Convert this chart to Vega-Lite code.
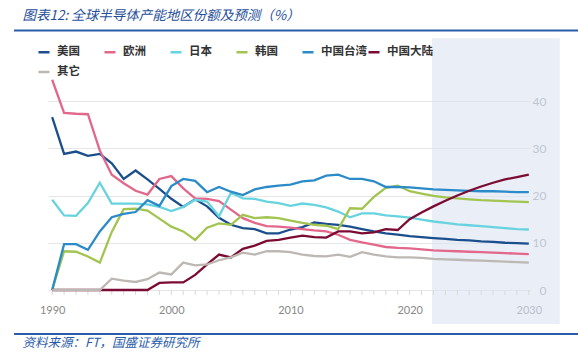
{
  "$schema": "https://vega.github.io/schema/vega-lite/v6.json",
  "width": 482,
  "height": 189,
  "autosize": {"type": "none"},
  "padding": {"left": 48, "top": 101, "right": 48, "bottom": 67},
  "background": "white",
  "config": {"view": {"stroke": null}, "font": "Noto Sans CJK SC", "legend": {"columnPadding": -8, "gridAlign": "all"}},
  "data": {"values": [
    {"year": 1990, "美国": 36.6, "欧洲": 44.5, "日本": 19.1, "韩国": 0, "中国台湾": 0, "中国大陆": 0, "其它": 0},
    {"year": 1991, "美国": 28.8, "欧洲": 37.5, "日本": 15.8, "韩国": 8.2, "中国台湾": 9.7, "中国大陆": 0, "其它": 0},
    {"year": 1992, "美国": 29.3, "欧洲": 37.3, "日本": 15.7, "韩国": 8.1, "中国台湾": 9.7, "中国大陆": 0, "其它": 0},
    {"year": 1993, "美国": 28.4, "欧洲": 37.2, "日本": 18.4, "韩国": 7.1, "中国台湾": 8.5, "中国大陆": 0, "其它": 0},
    {"year": 1994, "美国": 28.8, "欧洲": 29.5, "日本": 22.7, "韩国": 5.8, "中国台湾": 12.4, "中国大陆": 0, "其它": 0},
    {"year": 1995, "美国": 26.8, "欧洲": 24.4, "日本": 18.3, "韩国": 12.3, "中国台湾": 15.4, "中国大陆": 0, "其它": 2.4},
    {"year": 1996, "美国": 23.5, "欧洲": 22.6, "日本": 18.3, "韩国": 17.1, "中国台湾": 16.1, "中国大陆": 0, "其它": 2.0},
    {"year": 1997, "美国": 25.3, "欧洲": 21.0, "日本": 18.3, "韩国": 17.2, "中国台湾": 16.5, "中国大陆": 0, "其它": 1.7},
    {"year": 1998, "美国": 23.4, "欧洲": 20.2, "日本": 18.1, "韩国": 16.8, "中国台湾": 19.0, "中国大陆": 0, "其它": 2.3},
    {"year": 1999, "美国": 21.4, "欧洲": 23.5, "日本": 17.6, "韩国": 15.1, "中国台湾": 17.8, "中国大陆": 1.5, "其它": 3.7},
    {"year": 2000, "美国": 19.3, "欧洲": 24.1, "日本": 16.7, "韩国": 13.4, "中国台湾": 22.0, "中国大陆": 1.6, "其它": 3.3},
    {"year": 2001, "美国": 17.6, "欧洲": 21.5, "日本": 17.6, "韩国": 12.4, "中国台湾": 23.5, "中国大陆": 1.6, "其它": 5.8},
    {"year": 2002, "美国": 19.2, "欧洲": 19.4, "日本": 19.1, "韩国": 10.6, "中国台湾": 23.1, "中国大陆": 3.2, "其它": 5.2},
    {"year": 2003, "美国": 17.7, "欧洲": 19.3, "日本": 18.7, "韩国": 13.2, "中国台湾": 20.7, "中国大陆": 5.4, "其它": 5.4},
    {"year": 2004, "美国": 15.3, "欧洲": 18.8, "日本": 15.6, "韩国": 14.1, "中国台湾": 21.8, "中国大陆": 7.5, "其它": 6.3},
    {"year": 2005, "美国": 13.8, "欧洲": 17.0, "日本": 20.6, "韩国": 13.8, "中国台湾": 20.8, "中国大陆": 6.9, "其它": 6.9},
    {"year": 2006, "美国": 13.1, "欧洲": 15.2, "日本": 19.4, "韩国": 15.9, "中国台湾": 20.1, "中国大陆": 8.7, "其它": 7.9},
    {"year": 2007, "美国": 12.9, "欧洲": 14.2, "日本": 19.3, "韩国": 15.2, "中国台湾": 21.3, "中国大陆": 9.4, "其它": 7.5},
    {"year": 2008, "美国": 12.0, "欧洲": 13.5, "日本": 18.7, "韩国": 15.4, "中国台湾": 21.8, "中国大陆": 10.4, "其它": 8.2},
    {"year": 2009, "美国": 12.0, "欧洲": 13.4, "日本": 18.4, "韩国": 15.2, "中国台湾": 22.1, "中国大陆": 10.6, "其它": 8.2},
    {"year": 2010, "美国": 12.8, "欧洲": 13.2, "日本": 17.8, "韩国": 14.7, "中国台湾": 22.3, "中国大陆": 11.1, "其它": 8.0},
    {"year": 2011, "美国": 13.3, "欧洲": 12.9, "日本": 18.3, "韩国": 14.2, "中国台湾": 23.0, "中国大陆": 11.5, "其它": 7.5},
    {"year": 2012, "美国": 14.3, "欧洲": 12.6, "日本": 18.0, "韩国": 13.8, "中国台湾": 23.2, "中国大陆": 11.2, "其它": 7.2},
    {"year": 2013, "美国": 14.0, "欧洲": 12.4, "日本": 17.5, "韩国": 13.6, "中国台湾": 24.2, "中国大陆": 11.1, "其它": 7.1},
    {"year": 2014, "美国": 13.8, "欧洲": 11.7, "日本": 16.6, "韩国": 12.9, "中国台湾": 24.4, "中国大陆": 12.4, "其它": 7.5},
    {"year": 2015, "美国": 13.4, "欧洲": 10.6, "日本": 15.4, "韩国": 17.3, "中国台湾": 23.5, "中国大陆": 12.4, "其它": 7.0},
    {"year": 2016, "美国": 12.9, "欧洲": 10.1, "日本": 16.2, "韩国": 17.2, "中国台湾": 23.5, "中国大陆": 12.0, "其它": 8.0},
    {"year": 2017, "美国": 12.4, "欧洲": 9.6, "日本": 16.2, "韩国": 19.7, "中国台湾": 23.0, "中国大陆": 12.2, "其它": 7.5},
    {"year": 2018, "美国": 12.0, "欧洲": 9.1, "日本": 15.8, "韩国": 21.6, "中国台湾": 21.8, "中国大陆": 12.9, "其它": 7.1},
    {"year": 2019, "美国": 11.7, "欧洲": 8.9, "日本": 15.6, "韩国": 22.1, "中国台湾": 21.8, "中国大陆": 12.7, "其它": 6.9},
    {"year": 2020, "美国": 11.4, "欧洲": 8.8, "日本": 15.3, "韩国": 20.9, "中国台湾": 21.7, "中国大陆": 15.0, "其它": 6.9},
    {"year": 2021, "美国": 11.2, "欧洲": 8.6, "日本": 14.9, "韩国": 20.4, "中国台湾": 21.5, "中国大陆": 16.4, "其它": 6.8},
    {"year": 2022, "美国": 11.0, "欧洲": 8.4, "日本": 14.5, "韩国": 19.9, "中国台湾": 21.3, "中国大陆": 17.7, "其它": 6.6},
    {"year": 2023, "美国": 10.8, "欧洲": 8.3, "日本": 14.2, "韩国": 19.6, "中国台湾": 21.2, "中国大陆": 18.9, "其它": 6.5},
    {"year": 2024, "美国": 10.6, "欧洲": 8.2, "日本": 13.9, "韩国": 19.4, "中国台湾": 21.1, "中国大陆": 20.0, "其它": 6.4},
    {"year": 2025, "美国": 10.5, "欧洲": 8.1, "日本": 13.7, "韩国": 19.2, "中国台湾": 21.0, "中国大陆": 21.0, "其它": 6.3},
    {"year": 2026, "美国": 10.3, "欧洲": 8.0, "日本": 13.5, "韩国": 19.0, "中国台湾": 20.9, "中国大陆": 21.9, "其它": 6.2},
    {"year": 2027, "美国": 10.2, "欧洲": 7.9, "日本": 13.3, "韩国": 18.9, "中国台湾": 20.9, "中国大陆": 22.7, "其它": 6.1},
    {"year": 2028, "美国": 10.0, "欧洲": 7.8, "日本": 13.1, "韩国": 18.8, "中国台湾": 20.8, "中国大陆": 23.4, "其它": 6.0},
    {"year": 2029, "美国": 9.9, "欧洲": 7.7, "日本": 12.9, "韩国": 18.7, "中国台湾": 20.7, "中国大陆": 23.9, "其它": 5.9},
    {"year": 2030, "美国": 9.8, "欧洲": 7.6, "日本": 12.8, "韩国": 18.6, "中国台湾": 20.7, "中国大陆": 24.4, "其它": 5.8}
  ]},
  "layer": [
    {
      "data": {"values": [{}]},
      "mark": {"type": "rect", "color": "#dbe3f1", "opacity": 0.6},
      "encoding": {
        "x": {"datum": 2021.88, "type": "quantitative"},
        "x2": {"datum": 2032.6},
        "y": {"datum": 53.3, "type": "quantitative"},
        "y2": {"datum": -7.2}
      }
    },
    {
      "mark": {"type": "rule", "color": "#dadada", "strokeWidth": 1},
      "encoding": {
        "x": {"field": "year", "type": "quantitative"},
        "y": {"datum": 0, "type": "quantitative"},
        "y2": {"datum": -1.06}
      }
    },
    {
      "transform": [{"fold": ["美国", "欧洲", "日本", "韩国", "中国台湾", "中国大陆", "其它"], "as": ["region", "value"]}],
      "mark": {"type": "line", "strokeWidth": 2.3},
      "encoding": {
        "x": {
          "field": "year", "type": "quantitative",
          "scale": {"domain": [1989.65, 2030.1], "nice": false, "zero": false},
          "axis": {
            "values": [1990, 2000, 2010, 2020, 2030],
            "format": "d",
            "grid": false, "domain": false, "ticks": false,
            "labelPadding": 14, "labelFont": "Lato", "labelFontSize": 11, "labelColor": "#888888",
            "labelFlush": false, "labelOverlap": false,
            "title": "资料来源：FT，国盛证券研究所",
            "titleX": -26, "titleY": 52, "titleAlign": "left", "titleBaseline": "middle",
            "titleFont": "Noto Sans CJK SC", "titleFontSize": 12.5, "titleFontStyle": "italic",
            "titleFontWeight": "normal", "titleColor": "#2a5caa"
          }
        },
        "y": {
          "field": "value", "type": "quantitative",
          "scale": {"domain": [0, 40], "nice": false},
          "axis": {
            "orient": "right", "values": [0, 10, 20, 30, 40],
            "grid": true, "gridColor": "#e6e6e6", "domain": false, "ticks": false,
            "labelPadding": 16, "labelAlign": "right", "labelFont": "Lato", "labelFontSize": 12, "labelColor": "#999999",
            "title": "图表12: 全球半导体产能地区份额及预测（%）",
            "titleAngle": 0, "titleX": -508, "titleY": -86, "titleAlign": "left", "titleBaseline": "middle",
            "titleFont": "Noto Sans CJK SC", "titleFontSize": 13.5, "titleFontStyle": "italic",
            "titleFontWeight": "normal", "titleColor": "#1f4e9a"
          }
        },
        "color": {
          "field": "region", "type": "nominal",
          "scale": {
            "domain": ["美国", "欧洲", "日本", "韩国", "中国台湾", "中国大陆", "其它"],
            "range": ["#1b4e8c", "#e2678b", "#67d3df", "#a2c450", "#2b8bc8", "#7b0b33", "#bdb8b3"]
          },
          "legend": {
            "orient": "none", "legendX": -11, "legendY": -56,
            "direction": "horizontal", "columns": 6, "gridAlign": "all",
            "columnPadding": -8, "rowPadding": 7, "padding": 0,
            "symbolType": "stroke", "symbolSize": 121, "symbolStrokeWidth": 2.5,
            "labelOffset": 6, "labelFontSize": 11.5, "labelFont": "Noto Sans CJK SC",
            "labelFontWeight": "bold", "labelColor": "#333333", "title": null
          }
        }
      }
    },
    {
      "data": {"values": [{}]},
      "mark": {"type": "rule", "color": "#2a5caa", "strokeWidth": 2},
      "encoding": {
        "x": {"datum": 1986.8, "type": "quantitative"},
        "x2": {"datum": 2034.2},
        "y": {"datum": 54.9, "type": "quantitative"}
      }
    },
    {
      "data": {"values": [{}]},
      "mark": {"type": "rule", "color": "#2a5caa", "strokeWidth": 2},
      "encoding": {
        "x": {"datum": 1986.8, "type": "quantitative"},
        "x2": {"datum": 2034.2},
        "y": {"datum": -9.3, "type": "quantitative"}
      }
    }
  ]
}
